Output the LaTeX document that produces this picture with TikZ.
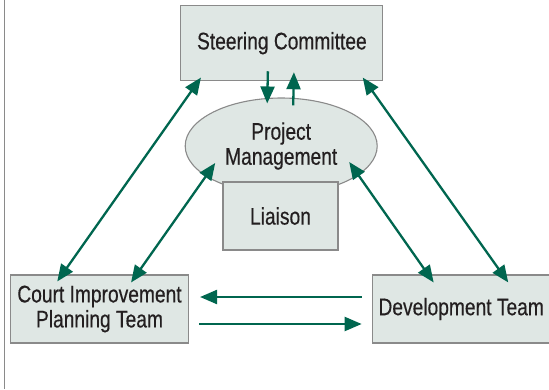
\documentclass[tikz,border=0pt]{standalone}
\usepackage{fontspec}
\setmainfont[FakeStretch=0.8,FakeBold=0.4]{Liberation Sans}
\usetikzlibrary{arrows.meta,shapes.geometric}
\definecolor{boxfill}{HTML}{DFE7E4}
\definecolor{boxline}{HTML}{8A8A8A}
\definecolor{flowgreen}{HTML}{00664F}
\definecolor{inkgray}{HTML}{231F20}
\begin{document}
\begin{tikzpicture}[x=1pt,y=-1pt,
  unit/.style={draw=boxline,line width=1.1pt,fill=boxfill,text=inkgray,align=center,
    inner sep=0pt,font=\fontsize{24}{25}\selectfont},
  flow/.style={draw=flowgreen,line width=2.3pt,-{Triangle[length=17pt,width=14pt]}},
  both/.style={flow,{Triangle[length=17pt,width=14pt]}-{Triangle[length=17pt,width=14pt]}}]
\useasboundingbox (0,0) rectangle (549,389);
\draw[boxline,line width=1pt] (4.2,0) -- (4.2,389);
\node[unit,minimum width=202pt,minimum height=75pt] (sc) at (281.9,43.2) {Steering Committee};
\node[unit,ellipse,minimum width=192pt,minimum height=96pt] (pm) at (281.2,146) {Project\\Management};
\node[unit,minimum width=115pt,minimum height=68pt] (li) at (280.5,216) {Liaison};
\node[unit,minimum width=178pt,minimum height=68pt] (cip) at (99.5,309) {Court Improvement\\Planning Team};
\node[unit,minimum width=178pt,minimum height=68pt] (dev) at (461.2,309) {Development Team};
\draw[flow] ([xshift=-14pt,yshift=10pt]sc.south) -- ([xshift=-14pt,yshift=-6pt]pm.north);
\draw[flow] ([xshift=12pt,yshift=-8pt]pm.north) -- ([xshift=12pt,yshift=9pt]sc.south);
\draw[both] ([xshift=20.6pt,yshift=3.7pt]sc.south west) -- ([xshift=47.3pt,yshift=-7pt]cip.north west);
\draw[both] ([xshift=-66pt,yshift=-17pt]pm.center) -- ([xshift=-58pt,yshift=-8pt]cip.north east);
\draw[both] ([xshift=68pt,yshift=-16pt]pm.center) -- ([xshift=62pt,yshift=-8pt]dev.north west);
\draw[both] ([xshift=-20.7pt,yshift=3.7pt]sc.south east) -- ([xshift=-42.5pt,yshift=-8pt]dev.north east);
\draw[flow] ([xshift=-10pt,yshift=12pt]dev.west) -- ([xshift=11pt,yshift=12pt]cip.east);
\draw[flow] ([xshift=10pt,yshift=-15pt]cip.east) -- ([xshift=-10pt,yshift=-15pt]dev.west);
\end{tikzpicture}
\end{document}
